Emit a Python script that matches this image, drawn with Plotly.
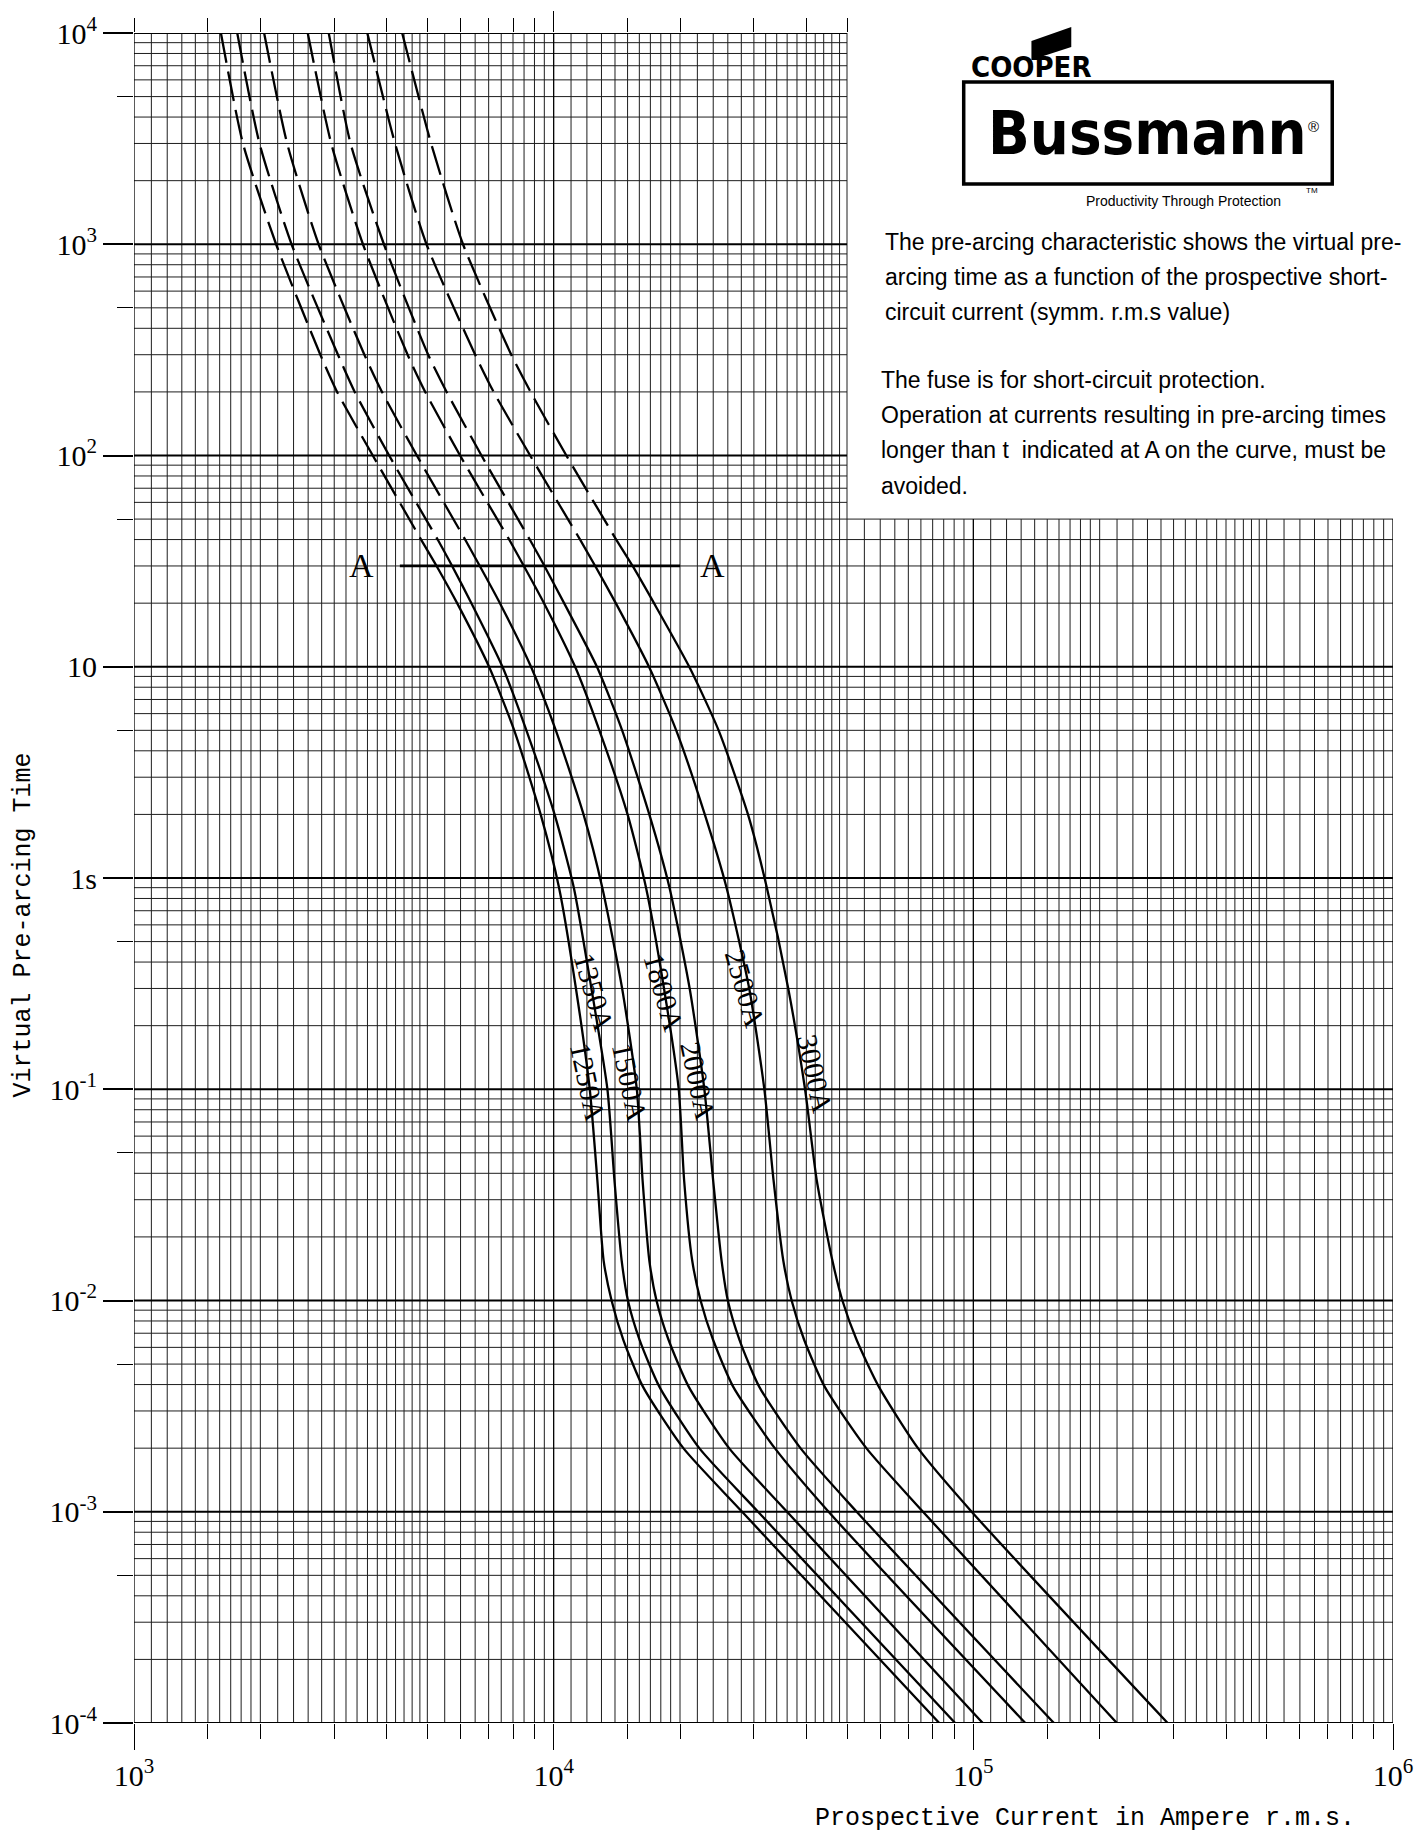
import math
import plotly.graph_objects as go

# ---------------- data ----------------
RATINGS = ["1250A", "1350A", "1500A", "1800A", "2000A", "2500A", "3000A"]
TIMES = [10000, 3000, 1000, 300, 200, 100, 40, 30, 20, 10, 5, 2, 0.9, 0.3, 0.1,
         0.037, 0.0155, 0.01, 0.0065, 0.0039, 0.002, 0.001, 0.0001]
I_1250 = [1611, 1818, 2181, 2780, 3048, 3707, 4831, 5260, 5888, 7015, 8054, 9311, 10300,
          11300, 12190, 12710, 13150, 13740, 14660, 16330, 20370, 28120, 82950]
I_1350 = [1762, 1991, 2374, 3062, 3357, 4055, 5292, 5728, 6368, 7551, 8610, 10050, 11170,
          12300, 13430, 13960, 14520, 15030, 16030, 17870, 22230, 30690, 90500]
I_1500 = [2042, 2317, 2754, 3540, 3899, 4721, 6152, 6668, 7447, 8831, 10120, 11780, 13060,
          14560, 15780, 16290, 16900, 17580, 18790, 20990, 26180, 35980, 105300]
I_1800 = [2594, 2951, 3512, 4487, 4943, 5984, 7834, 8492, 9484, 11250, 12850, 15000, 16600,
          18320, 19860, 20460, 21380, 22390, 23990, 26790, 33650, 45190, 133000]
I_2000 = [2911, 3281, 3940, 5023, 5559, 6730, 8770, 9506, 10590, 12680, 14560, 16900, 18880,
          21090, 22860, 23990, 25120, 26000, 27730, 30900, 38730, 52720, 155600]
I_2500 = [3597, 4188, 4977, 6501, 7194, 8790, 11560, 12560, 14060, 16870, 19590, 22910, 25820,
          29240, 31770, 33420, 35240, 36900, 39540, 44260, 55590, 75860, 219800]
I_3000 = [4355, 5105, 6081, 7925, 8810, 10720, 14090, 15420, 17340, 21040, 24720, 29040, 32210,
          36220, 39720, 42360, 46130, 48750, 52720, 59570, 73790, 99080, 290400]
CURRENTS = [I_1250, I_1350, I_1500, I_1800, I_2000, I_2500, I_3000]

DASHED_ABOVE_S = 40          # curves are dashed for times >= this
A_TIME = 30                  # the "A" limit line
A_CURRENTS = [4300, 20000]
A_LABEL_CURRENTS = [3490, 23900]

X_TICKS = [1e3, 1e4, 1e5, 1e6]
X_TICKTEXT = ["10<sup>3</sup>", "10<sup>4</sup>", "10<sup>5</sup>", "10<sup>6</sup>"]
Y_TICKS = [1e-4, 1e-3, 1e-2, 1e-1, 1, 10, 1e2, 1e3, 1e4]
Y_TICKTEXT = ["10<sup>-4</sup>", "10<sup>-3</sup>", "10<sup>-2</sup>", "10<sup>-1</sup>",
              "1s", "10", "10<sup>2</sup>", "10<sup>3</sup>", "10<sup>4</sup>"]

# curve label anchor points (current, time) and angles
LABEL_CURRENT = [12050, 12500, 15170, 18320, 22120, 28490, 41920]
LABEL_TIME = [0.108, 0.29, 0.108, 0.29, 0.11, 0.30, 0.118]
LABEL_ANGLE = [78, 74, 78, 74, 78, 74, 78]

X_MIN, X_MAX = 1e3, 1e6
T_MIN, T_MAX = 1e-4, 1e4
X_SPLIT, T_SPLIT = 5e4, 50   # upper-right block is blank

# ---------------- page geometry ----------------
W, H = 1425, 1834
ML, MR, MT, MB = 134, 27, 33, 111
PW, PH = W - ML - MR, H - MT - MB


def px(X):
    return (X - ML) / PW


def py(Y):
    return (H - MB - Y) / PH


# ---------------- grid ----------------
x_mant = [round(1 + 0.1 * k, 2) for k in range(10)] + \
         [round(2 + 0.2 * k, 2) for k in range(15)] + \
         [round(5 + 0.5 * k, 2) for k in range(10)]
x_lines = [m * 10 ** d for d in (3, 4, 5) for m in x_mant] + [1e6]
y_lines = [m * 10.0 ** d for d in range(-4, 4) for m in range(1, 10)] + [1e4]


def is_decade(v):
    lv = math.log10(v)
    return abs(lv - round(lv)) < 1e-9


gx_min, gy_min = [], []
vx_maj, vy_maj = [], []
hx_maj, hy_maj = [], []
for x in x_lines:
    top = T_MAX if x <= X_SPLIT * 1.000001 else T_SPLIT
    tx, ty = (vx_maj, vy_maj) if is_decade(x) else (gx_min, gy_min)
    tx += [x, x, None]
    ty += [T_MIN, top, None]
for t in y_lines:
    right = X_MAX if t <= T_SPLIT * 1.000001 else X_SPLIT
    tx, ty = (hx_maj, hy_maj) if is_decade(t) else (gx_min, gy_min)
    tx += [X_MIN, right, None]
    ty += [t, t, None]

fig = go.Figure()
fig.add_trace(go.Scatter(x=gx_min, y=gy_min, mode="lines",
                         line=dict(color="#1e1e1e", width=1),
                         hoverinfo="skip", showlegend=False))
fig.add_trace(go.Scatter(x=vx_maj, y=vy_maj, mode="lines",
                         line=dict(color="#000000", width=1.3),
                         hoverinfo="skip", showlegend=False))
fig.add_trace(go.Scatter(x=hx_maj, y=hy_maj, mode="lines",
                         line=dict(color="#000000", width=2),
                         hoverinfo="skip", showlegend=False))

# ---------------- curves ----------------
for name, cur in zip(RATINGS, CURRENTS):
    dash_x = [c for c, t in zip(cur, TIMES) if t >= DASHED_ABOVE_S]
    dash_y = [t for t in TIMES if t >= DASHED_ABOVE_S]
    sol_x = [c for c, t in zip(cur, TIMES) if t <= DASHED_ABOVE_S]
    sol_y = [t for t in TIMES if t <= DASHED_ABOVE_S]
    fig.add_trace(go.Scatter(x=dash_x, y=dash_y, mode="lines", name=name,
                             line=dict(color="black", width=2.3, dash="30px,9px",
                                       shape="spline", smoothing=0.6),
                             hoverinfo="skip", showlegend=False))
    fig.add_trace(go.Scatter(x=sol_x, y=sol_y, mode="lines", name=name,
                             line=dict(color="black", width=2.3,
                                       shape="spline", smoothing=0.6),
                             hoverinfo="skip", showlegend=False))

# A line
fig.add_trace(go.Scatter(x=A_CURRENTS, y=[A_TIME, A_TIME], mode="lines",
                         line=dict(color="black", width=2.8),
                         hoverinfo="skip", showlegend=False))

# invisible trace so the top tick axis exists
fig.add_trace(go.Scatter(x=[X_TICKS[0]], y=[Y_TICKS[-1]], xaxis="x2", mode="markers",
                         marker=dict(opacity=0), hoverinfo="skip", showlegend=False))

# ---------------- axes ----------------
bottom_minor = [m * 10 ** d for d in (3, 4, 5) for m in (1.5, 2, 3, 4, 5, 6, 7, 8, 9)]
top_minor = [m * 1e3 for m in (1, 1.5, 2, 3, 4, 5, 6, 7, 8, 9)] + \
            [m * 1e4 for m in (1.5, 2, 3, 4, 5)]
left_minor = [5 * 10.0 ** d for d in range(-4, 4)]

tick_font = dict(family="Liberation Serif, serif", size=30, color="black")

fig.update_layout(
    width=W, height=H,
    margin=dict(l=ML, r=MR, t=MT, b=MB, pad=0),
    paper_bgcolor="white", plot_bgcolor="white",
    showlegend=False, hovermode=False,
    xaxis=dict(type="log", range=[3, 6], showgrid=False, zeroline=False, showline=False,
               tickmode="array", tickvals=X_TICKS, ticktext=X_TICKTEXT,
               ticks="outside", ticklen=26, tickwidth=1.3, tickcolor="black",
               tickfont=tick_font,
               minor=dict(tickmode="array", tickvals=bottom_minor, ticks="outside",
                          ticklen=15, tickwidth=1, tickcolor="black", showgrid=False)),
    xaxis2=dict(type="log", range=[3, 6], overlaying="x", side="top", anchor="y",
                showgrid=False, zeroline=False, showline=False, showticklabels=False,
                tickmode="array", tickvals=[1e4], ticks="outside", ticklen=21,
                tickwidth=1.3, tickcolor="black",
                minor=dict(tickmode="array", tickvals=top_minor, ticks="outside",
                           ticklen=14, tickwidth=1, tickcolor="black", showgrid=False)),
    yaxis=dict(type="log", range=[-4, 4], showgrid=False, zeroline=False, showline=False,
               tickmode="array", tickvals=Y_TICKS, ticktext=Y_TICKTEXT,
               ticks="outside", ticklen=30, tickwidth=1.5, tickcolor="black",
               tickfont=tick_font,
               minor=dict(tickmode="array", tickvals=left_minor, ticks="outside",
                          ticklen=16, tickwidth=1, tickcolor="black", showgrid=False)),
)

ann = []
serif = "Liberation Serif, serif"
mono = "Liberation Mono, monospace"
sans = "Liberation Sans, Arial, sans-serif"
logo_font = "DejaVu Sans Condensed, DejaVu Sans, sans-serif"

# curve labels
for name, c, t, a in zip(RATINGS, LABEL_CURRENT, LABEL_TIME, LABEL_ANGLE):
    ann.append(dict(x=math.log10(c), y=math.log10(t), xref="x", yref="y", text=name,
                    showarrow=False, textangle=a,
                    font=dict(family=serif, size=29, color="black"),
                    xanchor="center", yanchor="middle"))
# A labels
for c in A_LABEL_CURRENTS:
    ann.append(dict(x=math.log10(c), y=math.log10(A_TIME), xref="x", yref="y", text="A",
                    showarrow=False, font=dict(family=serif, size=34, color="black"),
                    xanchor="center", yanchor="middle"))

# axis titles
ann.append(dict(x=px(1362), y=py(1818), xref="paper", yref="paper",
                text="Prospective Current in Ampere r.m.s.", showarrow=False,
                xanchor="right", yanchor="middle",
                font=dict(family=mono, size=25, color="black")))
ann.append(dict(x=px(23), y=py(925), xref="paper", yref="paper",
                text="Virtual Pre-arcing Time", showarrow=False, textangle=-90,
                xanchor="center", yanchor="middle",
                font=dict(family=mono, size=25, color="black")))

# logo
ann.append(dict(x=px(1035), y=py(67), xref="paper", yref="paper", text="<b>COOPER</b>",
                showarrow=False, xanchor="center", yanchor="middle",
                font=dict(family=logo_font, size=29, color="black")))
ann.append(dict(x=px(1152), y=py(133), xref="paper", yref="paper", text="<b>Bussmann</b>",
                showarrow=False, xanchor="center", yanchor="middle",
                font=dict(family=logo_font, size=61, color="black")))
ann.append(dict(x=px(1318), y=py(127), xref="paper", yref="paper", text="®",
                showarrow=False, xanchor="center", yanchor="middle",
                font=dict(family=sans, size=15, color="black")))
ann.append(dict(x=px(1187.5), y=py(201), xref="paper", yref="paper",
                text="Productivity Through Protection", showarrow=False,
                xanchor="center", yanchor="middle",
                font=dict(family=sans, size=14, color="black")))
ann.append(dict(x=px(1317), y=py(191), xref="paper", yref="paper", text="TM",
                showarrow=False, xanchor="center", yanchor="middle",
                font=dict(family=sans, size=8, color="black")))

# description text
P1 = ["The pre-arcing characteristic shows the virtual pre-",
      "arcing time as a function of the prospective short-",
      "circuit current (symm. r.m.s value)"]
P2 = ["The fuse is for short-circuit protection.",
      "Operation at currents resulting in pre-arcing times",
      "longer than t&nbsp; indicated at A on the curve, must be",
      "avoided."]
for i, line in enumerate(P1):
    ann.append(dict(x=px(886), y=py(242 + 35 * i), xref="paper", yref="paper", text=line,
                    showarrow=False, xanchor="left", yanchor="middle",
                    font=dict(family=sans, size=23, color="black")))
for i, line in enumerate(P2):
    ann.append(dict(x=px(882), y=py(380 + 35.2 * i), xref="paper", yref="paper", text=line,
                    showarrow=False, xanchor="left", yanchor="middle",
                    font=dict(family=sans, size=23, color="black")))

fig.update_layout(annotations=ann)

# logo box and flag
flag_pts = [(1035, 60), (1035, 41), (1075, 27), (1075, 47), (1044, 57), (1044, 60)]
flag_path = "M " + " L ".join(f"{px(X):.5f},{py(Y):.5f}" for X, Y in flag_pts) + " Z"
fig.update_layout(shapes=[
    dict(type="rect", xref="paper", yref="paper", x0=px(967), x1=px(1337),
         y0=py(82), y1=py(184), line=dict(color="black", width=3.5)),
    dict(type="path", xref="paper", yref="paper", path=flag_path,
         fillcolor="black", line=dict(color="black", width=0)),
])

fig.write_html("out.html", config={"displayModeBar": False},
               post_script="document.body.style.margin='0';document.body.style.overflow='hidden';")
